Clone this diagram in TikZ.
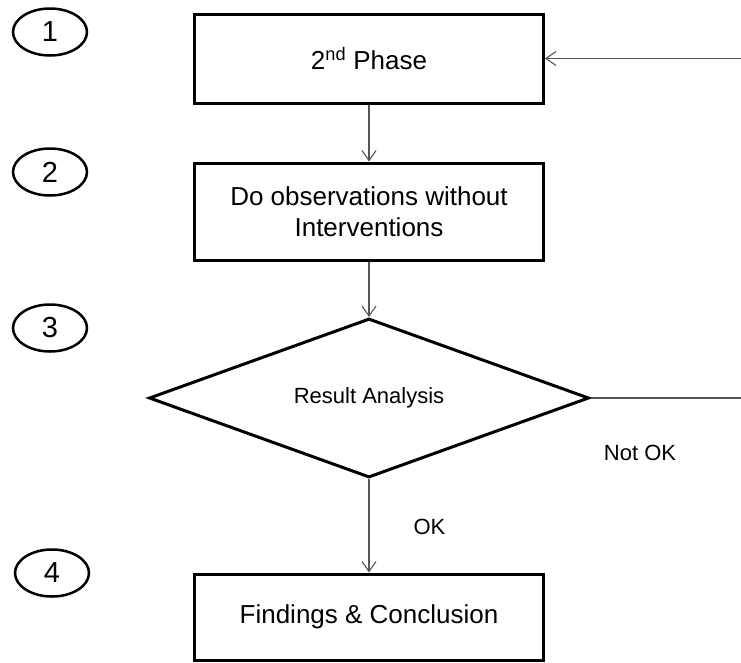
\documentclass[tikz,border=0pt]{standalone}
\usepackage{fontspec}
\setmainfont{Liberation Sans}
\usetikzlibrary{shapes.geometric,arrows.meta}
\definecolor{linkgray}{RGB}{85,85,85}
\tikzset{
  stagebox/.style={draw=black, line width=3pt, fill=white, inner sep=0pt,
    minimum width=349pt, align=center, font=\fontsize{26}{31}\selectfont},
  decision/.style={draw=black, line width=3pt, diamond, aspect=2.77, inner sep=0pt,
    minimum width=440pt, minimum height=159pt, font=\fontsize{22}{26}\selectfont},
  stepnum/.style={draw=black, line width=2.5pt, ellipse, inner sep=0pt,
    minimum width=74pt, minimum height=47pt, font=\fontsize{29}{34}\selectfont},
  flow/.style={draw=linkgray, line width=1.1pt,
    -{Straight Barb[length=10pt,width=14pt]}},
  caption/.style={font=\fontsize{22}{26}\selectfont, inner sep=0pt}
}
\begin{document}
\begin{tikzpicture}[x=1pt,y=-1pt]
  \useasboundingbox (0,0) rectangle (741,662);

  % step numbers
  \node[stepnum] (n1) at (50,32)  {1};
  \node[stepnum] (n2) at (50,172) {2};
  \node[stepnum] (n3) at (50,328) {3};
  \node[stepnum] (n4) at (52,573) {4};

  % process boxes and decision
  \node[stagebox, minimum height=89pt] (phase) at (369,58.5)
    {2\textsuperscript{nd} Phase};
  \node[stagebox, minimum height=97pt] (observe) at (369,211.5)
    {Do observations without\\Interventions};
  \node[decision] (analysis) at (369,398) {Result Analysis};
  \node[stagebox, minimum height=86pt] (findings) at (369,617)
    {Findings \& Conclusion};

  % return line runs off to the right edge
  \coordinate (loopx) at (760,0);

  % connectors
  \draw[flow] (phase.south) -- (observe.north);
  \draw[flow] (observe.south) -- (analysis.north);
  \draw[flow] (analysis.south) -- (findings.north);
  \draw[flow] (analysis.east) -| (loopx |- phase.east) -- (phase.east);

  % branch labels
  \node[caption] (ok) at (429.5,527) {OK};
  \node[caption] (notok) at (640,453) {Not OK};
\end{tikzpicture}
\end{document}
